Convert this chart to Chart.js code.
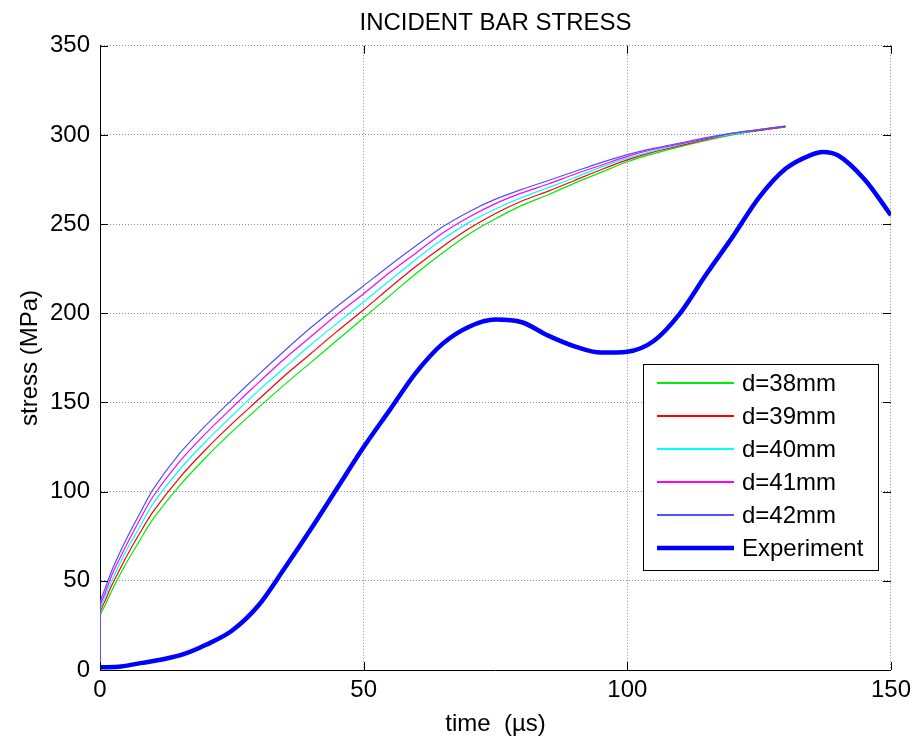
<!DOCTYPE html>
<html>
<head>
<meta charset="utf-8">
<title>Incident bar stress</title>
<script src="https://cdn.jsdelivr.net/npm/chart.js@4.4.1/dist/chart.umd.min.js"></script>
<style>
  html, body { margin: 0; padding: 0; background: #fff; }
  #wrap { width: 917px; height: 740px; position: relative; }
</style>
</head>
<body>
<div id="wrap"><canvas id="stressChart"></canvas></div>
<script>
// simulated curves share one time base (µs); the double 0 gives the initial jump
const simTime = [0, 0, 1, 2, 3, 5, 7.5, 10, 15, 20, 25, 30, 35, 40, 45, 50, 55, 60, 65, 70, 75, 80, 85, 90, 95, 100, 105, 110, 115, 120, 125, 130];
const d38 = [0, 30, 36.5, 43, 49, 60, 72.5, 84.5, 103, 119, 133.5, 147, 160, 172.5, 185, 197.5, 210, 222.5, 234, 244.5, 253, 260.5, 266.5, 273, 279, 285, 289.5, 293.5, 297, 300, 302.5, 304.5];
const d39 = [0, 32, 39, 46, 52, 63.5, 76.5, 88.5, 107.5, 123.5, 138, 151.5, 165, 177.5, 190, 202, 214.5, 226.5, 237.5, 247.5, 256, 263, 268.5, 274.5, 280.5, 286, 290.5, 294, 297.5, 300.5, 302.5, 304.5];
const d40 = [0, 33.5, 41.5, 48.5, 55, 67, 80, 93, 112, 128, 142.5, 156.5, 169.5, 182.5, 194.5, 206.5, 218.5, 230.5, 241.5, 251, 258.5, 265, 270.5, 276, 282, 287, 291, 294.5, 298, 300.5, 303, 305];
const d41 = [0, 35.5, 43.5, 51.5, 58, 70, 84, 97, 116.5, 132.5, 147, 161, 174.5, 187, 199.5, 211, 223, 234, 245, 254, 261.5, 267.5, 272.5, 278, 283, 288, 292, 295, 298, 301, 303, 305];
const d42 = [0, 37, 46, 54, 61, 73.5, 87.5, 101, 121, 137, 151.5, 165.5, 179, 192, 204, 215.5, 227, 238, 248.5, 257, 264, 269.5, 274.5, 279.5, 284.5, 289, 292.5, 295.5, 298.5, 301, 303, 305];

// measured incident stress
const expTime = [0, 4, 8, 12, 16, 20, 25, 30, 35, 40, 45, 50, 55, 60, 65, 70, 75, 80, 85, 90, 95, 100, 105, 110, 115, 120, 125, 130, 135, 137, 140, 145, 150];
const expStress = [1.5, 2, 4, 6, 9, 14, 22, 36, 57, 79, 102, 125, 146, 167, 183, 192.5, 196.5, 195, 187.5, 181.5, 178, 178.5, 184.5, 200, 222, 243, 265, 281, 289, 290.5, 288.5, 275, 255];

const xTicks = [0, 50, 100, 150];
const yTicks = [0, 50, 100, 150, 200, 250, 300, 350];

const seriesNames = ["d=38mm", "d=39mm", "d=40mm", "d=41mm", "d=42mm", "Experiment"];
const seriesColors = ["#00ee00", "#ff0000", "#00ffff", "#ff00ff", "#5050ff", "#0000ff"];
const seriesWidths = [1.2, 1.2, 1.2, 1.2, 1.2, 4.5];

const FONT = "'Liberation Sans', Arial, sans-serif";

function pairs(xs, ys) {
  return xs.map((x, i) => ({ x: x, y: ys[i] }));
}

const simSets = [d38, d39, d40, d41, d42].map((ys, i) => ({
  label: seriesNames[i],
  data: pairs(simTime, ys),
  borderColor: seriesColors[i],
  borderWidth: seriesWidths[i],
  tension: 0.25,
  order: 5 - i,
}));

const expSet = {
  label: seriesNames[5],
  data: pairs(expTime, expStress),
  borderColor: seriesColors[5],
  borderWidth: seriesWidths[5],
  cubicInterpolationMode: "monotone",
  order: 0,
};

// matlab-style inward ticks on all four sides
const boxTicks = {
  id: "boxTicks",
  afterDatasetsDraw(chart) {
    const { ctx, chartArea: a, scales } = chart;
    const len = 8;
    ctx.save();
    ctx.strokeStyle = "#000";
    ctx.lineWidth = 1;
    ctx.beginPath();
    xTicks.forEach((v) => {
      const x = Math.round(scales.x.getPixelForValue(v)) + 0.5;
      ctx.moveTo(x, a.bottom); ctx.lineTo(x, a.bottom - len);
      ctx.moveTo(x, a.top); ctx.lineTo(x, a.top + len);
    });
    yTicks.forEach((v) => {
      const y = Math.round(scales.y.getPixelForValue(v)) + 0.5;
      ctx.moveTo(a.left, y); ctx.lineTo(a.left + len, y);
      ctx.moveTo(a.right, y); ctx.lineTo(a.right - len, y);
    });
    ctx.stroke();
    ctx.restore();
  },
};

// legend box inside the axes, lower right
const boxLegend = {
  id: "boxLegend",
  afterDraw(chart) {
    const ctx = chart.ctx;
    const left = 643, top = 364, w = 235, h = 206;
    ctx.save();
    ctx.fillStyle = "#fff";
    ctx.fillRect(left, top, w, h);
    ctx.strokeStyle = "#000";
    ctx.lineWidth = 1;
    ctx.strokeRect(left + 0.5, top + 0.5, w, h);
    ctx.font = "24px " + FONT;
    ctx.textBaseline = "middle";
    ctx.fillStyle = "#000";
    seriesNames.forEach((name, i) => {
      const y = Math.round(top + 19 + i * 32.9);
      ctx.beginPath();
      ctx.strokeStyle = seriesColors[i];
      ctx.lineWidth = i < 5 ? 2 : seriesWidths[i];
      ctx.moveTo(left + 14, y);
      ctx.lineTo(left + 91, y);
      ctx.stroke();
      ctx.fillText(name, left + 99, y + 1);
    });
    ctx.restore();
  },
};

new Chart(document.getElementById("stressChart"), {
  type: "line",
  data: { datasets: [...simSets, expSet] },
  options: {
    responsive: true,
    maintainAspectRatio: false,
    animation: false,
    events: [],
    elements: { point: { radius: 0 } },
    layout: { padding: { left: 0, right: 24, top: 0, bottom: 0 } },
    plugins: {
      legend: { display: false },
      tooltip: { enabled: false },
      title: {
        display: true,
        fullSize: false,
        text: "INCIDENT BAR STRESS",
        color: "#000",
        font: { family: FONT, size: 24, weight: "normal" },
        padding: { top: 9, bottom: 8 },
      },
    },
    scales: {
      x: {
        type: "linear",
        min: 0,
        max: 150,
        afterFit(scale) { scale.height = 70; },
        afterBuildTicks(scale) { scale.ticks = xTicks.map((v) => ({ value: v })); },
        ticks: { color: "#000", padding: 6, font: { family: FONT, size: 24 } },
        grid: { color: "#8c8c8c", lineWidth: 1, drawTicks: false },
        border: { display: true, color: "#000", width: 1, dash: [1, 2] },
        title: {
          display: true,
          text: "time  (\u00b5s)",
          color: "#000",
          font: { family: FONT, size: 24 },
          padding: { top: 0, bottom: 1 },
        },
      },
      y: {
        min: 0,
        max: 350,
        afterFit(scale) { scale.width = 100; },
        afterBuildTicks(scale) { scale.ticks = yTicks.map((v) => ({ value: v })); },
        ticks: { color: "#000", padding: 10, font: { family: FONT, size: 24 } },
        grid: { color: "#8c8c8c", lineWidth: 1, drawTicks: false },
        border: { display: true, color: "#000", width: 1, dash: [1, 2] },
        title: {
          display: true,
          text: "stress (MPa)",
          color: "#000",
          font: { family: FONT, size: 24 },
          padding: { top: 16, bottom: 0 },
        },
      },
    },
  },
  plugins: [boxTicks, boxLegend],
});
</script>
</body>
</html>
